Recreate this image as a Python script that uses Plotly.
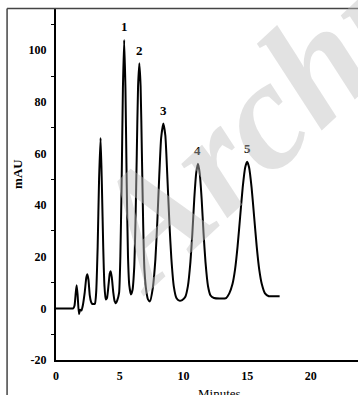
import plotly.graph_objects as go

# Chromatogram (time in minutes, signal in mAU)
time_min = [0.0, 0.8, 1.35, 1.45, 1.55, 1.62, 1.70, 1.80, 1.90, 2.00, 2.10, 2.25, 2.38, 2.46, 2.55,
            2.65, 2.75, 2.85, 3.05, 3.15, 3.27, 3.38, 3.50, 3.60, 3.71, 3.80, 3.90, 4.00, 4.12, 4.22,
            4.29, 4.38, 4.50, 4.60, 4.70, 4.80, 4.95, 5.05, 5.15, 5.25, 5.35, 5.45, 5.55, 5.65, 5.75,
            5.88, 6.00, 6.14, 6.24, 6.34, 6.44, 6.54, 6.64, 6.74, 6.84, 6.94, 7.08, 7.22, 7.37, 7.60,
            7.80, 7.95, 8.10, 8.25, 8.42, 8.58, 8.73, 8.90, 9.05, 9.25, 9.45, 9.67, 9.90, 10.15, 10.35,
            10.55, 10.70, 10.85, 11.00, 11.14, 11.28, 11.43, 11.58, 11.73, 11.93, 12.13, 12.40, 13.00,
            13.35, 13.60, 13.85, 14.05, 14.25, 14.45, 14.65, 14.85, 15.00, 15.15, 15.35, 15.55, 15.75,
            15.95, 16.15, 16.40, 16.70, 17.00, 17.55]
signal_mau = [0.0, 0.0, 0.0, 1.0, 6.0, 9.0, 5.0, -2.2, -0.5, -0.8, 1.0, 6.0, 12.0, 13.2, 11.0,
              5.0, 2.5, 1.7, 1.8, 6.0, 24.0, 50.0, 66.0, 48.0, 23.0, 9.0, 3.5, 4.0, 9.0, 13.5,
              14.4, 12.0, 6.0, 2.8, 2.0, 3.0, 6.0, 20.0, 48.0, 85.0, 104.0, 85.0, 48.0, 20.0, 9.0,
              5.4, 7.0, 16.0, 34.0, 60.0, 86.0, 95.0, 86.0, 60.0, 33.0, 15.0, 7.0, 3.5, 2.7, 8.0,
              19.0, 33.5, 51.0, 66.0, 71.6, 67.0, 52.0, 33.0, 19.5, 8.3, 4.0, 3.0, 3.2, 4.5, 8.6,
              18.0, 29.0, 42.4, 52.3, 56.0, 52.3, 42.4, 29.0, 18.0, 8.6, 5.0, 4.0, 3.8,
              4.0, 5.8, 9.4, 15.0, 24.0, 35.4, 46.8, 54.7, 56.8, 54.7, 46.8, 35.4, 24.0,
              15.0, 9.4, 5.8, 4.7, 4.7, 4.7]

peak_names = ["1", "2", "3", "4", "5"]
peak_times = [5.35, 6.54, 8.42, 11.14, 15.0]
peak_heights = [104.0, 95.0, 71.6, 56.0, 56.8]

x_ticks = [0, 5, 10, 15, 20]
y_ticks = [-20, 0, 20, 40, 60, 80, 100]

serif = "Liberation Serif"

fig = go.Figure()
fig.add_trace(go.Scatter(
    x=time_min, y=signal_mau, mode="lines",
    line=dict(color="black", width=2, shape="spline", smoothing=0.5),
    hoverinfo="skip", showlegend=False,
))

for name, t, h in zip(peak_names, peak_times, peak_heights):
    fig.add_annotation(x=t, y=h, text=name, showarrow=False, yshift=13,
                       font=dict(family=serif, size=13, color="black", weight="bold"))

# watermark
fig.add_annotation(xref="paper", yref="paper", x=0.86, y=0.84, xanchor="center", yanchor="middle",
                   text="Archives", showarrow=False, textangle=-43,
                   font=dict(family=serif, size=155, color="rgba(190,190,190,0.45)",
                             weight="bold", style="italic"))

fig.update_layout(
    width=358, height=395,
    margin=dict(l=56, r=0, t=9, b=35),
    paper_bgcolor="white", plot_bgcolor="white",
    showlegend=False,
    shapes=[
        dict(type="line", xref="paper", yref="paper", x0=-0.162, x1=1.05, y0=1.0014, y1=1.0014,
             line=dict(color="#444", width=1.5)),
        dict(type="line", xref="paper", yref="paper", x0=-0.162, x1=-0.162, y0=1.0014, y1=-0.2,
             line=dict(color="#444", width=1.5)),
    ],
    annotations=list(fig.layout.annotations) + [
        dict(xref="paper", yref="paper", x=-0.126, y=0.53, xanchor="center", yanchor="middle",
             text="mAU", showarrow=False, textangle=-90,
             font=dict(family=serif, size=13, color="black", weight="bold")),
        dict(xref="paper", yref="paper", x=0.54, y=-0.068, xanchor="center", yanchor="top",
             text="Minutes", showarrow=False,
             font=dict(family=serif, size=13, color="black")),
    ],
)

fig.update_xaxes(range=[0, 23.7], tickvals=x_ticks, ticktext=[str(v) for v in x_ticks],
                 showgrid=False, zeroline=False, showline=True, linecolor="black", linewidth=2,
                 ticks="", ticklabelstandoff=4,
                 tickfont=dict(family=serif, size=12, color="black", weight="bold"))
fig.update_yaxes(range=[-20, 116], tickvals=y_ticks, ticktext=[str(v) for v in y_ticks],
                 showgrid=False, zeroline=False, showline=True, linecolor="black", linewidth=2,
                 ticks="", ticklabelstandoff=5,
                 minor=dict(tickvals=[-10, 10, 30, 50, 70, 90, 110], ticks="outside",
                            ticklen=3, tickcolor="black", tickwidth=1),
                 tickfont=dict(family=serif, size=12, color="black", weight="bold"))

fig.write_html("out.html")
